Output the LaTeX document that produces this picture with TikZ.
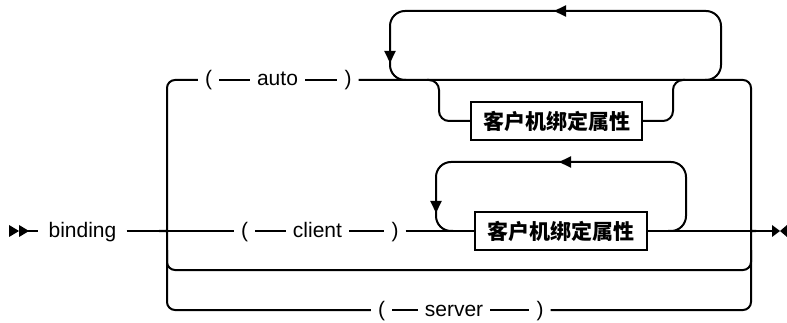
\documentclass[tikz,border=0pt]{standalone}
\usepackage{fontspec}
\setmainfont{Liberation Sans}
\newfontfamily\cjk{Noto Sans CJK SC}
\usetikzlibrary{arrows.meta}
\tikzset{
  rr/.style={line width=2pt},
  lbl/.style={inner xsep=7pt, inner ysep=0pt, text height=16pt, text depth=4pt, font=\fontsize{21}{24}\selectfont},
  kbox/.style={draw, line width=2pt, fill=white, minimum width=171pt, minimum height=38pt, inner sep=0pt, font=\cjk\bfseries\fontsize{21}{24}\selectfont},
  ahead/.style={-{Triangle[length=12pt,width=11pt]}, line width=2pt},
  tri/.style={fill=black}
}
\begin{document}
\begin{tikzpicture}[x=1pt,y=-1pt]
\useasboundingbox (0,0) rectangle (787,323);
% nodes
\node[lbl, inner xsep=10pt] (bind) at (82.5,231) {binding};
\node[lbl] (ap1) at (208.5,80) {(};
\node[lbl] (aw)  at (277.5,80) {auto};
\node[lbl] (ap2) at (348,80) {)};
\node[lbl] (cp1) at (244.5,231) {(};
\node[lbl] (cw)  at (317.5,231) {client};
\node[lbl] (cp2) at (395,231) {)};
\node[lbl] (sp1) at (381.5,310) {(};
\node[lbl] (sw)  at (454,310) {server};
\node[lbl] (sp2) at (540,310) {)};
\node[kbox] (b1) at (556.5,121) {客户机绑定属性};
\node[kbox, minimum width=172pt] (b2) at (561,231) {客户机绑定属性};
% coordinates
\coordinate (s) at (28,231);
\coordinate (lt) at (159,231);
\coordinate (rt) at (756,231);
\coordinate (e) at (772,231);
% start marker
\fill[tri] (9,225) -- (19,231) -- (9,237) -- cycle;
\fill[tri] (19,225) -- (29,231) -- (19,237) -- cycle;
\draw[rr] (s) -- (bind.west);
\draw[rr] (bind.east) -- (lt) -- (cp1.west);
\draw[rr] (cp1.east) -- (cw.west);
\draw[rr] (cw.east) -- (cp2.west);
\draw[rr] (cp2.east) -- (b2.west);
\draw[rr] (b2.east) -- (rt) -- (e);
% end marker
\fill[tri] (772,225) -- (780,231) -- (772,237) -- cycle;
\fill[tri] (787,225) -- (780,231) -- (787,237) -- cycle;
% left rails
\draw[rr, rounded corners=8pt] (lt) .. controls (167,231) .. (167,222) -- (167,80) -- (ap1.west);
\draw[rr, rounded corners=8pt] (lt) .. controls (167,231) .. (167,240) -- (167,310) -- (sp1.west);
\draw[rr, rounded corners=8pt] (167,250) |- (751,270) -- (751,250);
% right rails
\draw[rr, rounded corners=8pt] (ap2.east) -- (751,80) -- (751,222) .. controls (751,231) .. (rt);
\draw[rr, rounded corners=8pt] (sp2.east) -- (751,310) -- (751,240) .. controls (751,231) .. (rt);
% auto row
\draw[rr] (ap1.east) -- (aw.west);
\draw[rr] (aw.east) -- (ap2.west);
% server row
\draw[rr] (sp1.east) -- (sw.west);
\draw[rr] (sw.east) -- (sp2.west);
% lower path of first repeat
\draw[rr, rounded corners=10pt] (b1.west) -| (439,80) -- (427,80);
\draw[rr, rounded corners=10pt] (b1.east) -| (673,80) -- (685,80);
% loop 1
\draw[rr, rounded corners=15pt] (406,80) -- (390,80) -- (390,11) -- (721,11) -- (721,80) -- (705,80);
\draw[ahead] (568,11) -- (554,11);
\draw[ahead] (390,48) -- (390,63);
% loop 2
\draw[rr, rounded corners=15pt] (453,231) -- (436,231) -- (436,162) -- (686,162) -- (686,231) -- (668,231);
\draw[ahead] (573,162) -- (559,162);
\draw[ahead] (436,198) -- (436,213);
\end{tikzpicture}
\end{document}
